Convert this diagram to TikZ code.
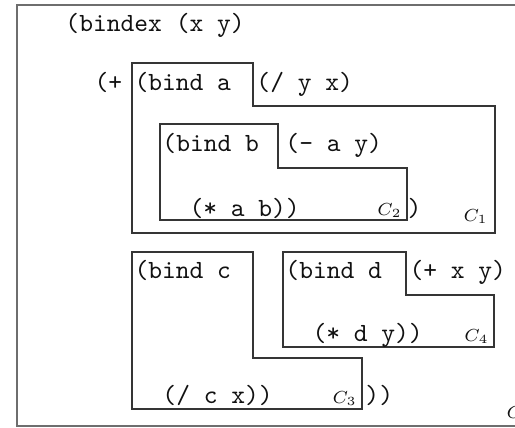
\documentclass[tikz,border=0pt]{standalone}
\usepackage{tikz}
\usepackage{amsmath, amssymb}
\usetikzlibrary{positioning, calc}
\definecolor{Dark}{HTML}{111111}
\definecolor{Frame}{HTML}{6E6E6E}
\tikzset{
    code/.style={font=\fontsize{10.5}{12}\ttfamily, text=Dark, inner sep=0pt, anchor=base west},
    ctxlabel/.style={font=\scriptsize, text=Dark, inner sep=0pt, anchor=base west},
    ctxbox/.style={draw=Dark!85, line width=0.45pt},
    outerbox/.style={draw=Frame, line width=0.9pt},
}
\begin{document}
\begin{tikzpicture}[x=0.4pt, y=-0.4pt]
    \useasboundingbox (0,0) rectangle (515,428);

    % Cornice esterna (tagliata a destra)
    \draw[outerbox] (17,5) rectangle (560,426);
    \node[ctxlabel] (c0) at (506,418) {$C_0$};

    % Contesti
    \draw[ctxbox] (132,63) -- (253,63) -- (253,106) -- (495,106) -- (495,233) -- (132,233) -- cycle;
    \draw[ctxbox] (160,124) -- (278,124) -- (278,168) -- (407,168) -- (407,220) -- (160,220) -- cycle;
    \draw[ctxbox] (132,252) -- (253,252) -- (253,358) -- (362,358) -- (362,409) -- (132,409) -- cycle;
    \draw[ctxbox] (283,252) -- (406,252) -- (406,295) -- (494,295) -- (494,347) -- (283,347) -- cycle;

    % Codice
    \node[code] (bindex) at (65,31) {(bindex (x y)};
    \node[code] (plus)   at (94,90) {(+};
    \node[code] (binda)  at (134,90) {(bind a};
    \node[code] (diva)   at (256,90) {(/ y x)};
    \node[code] (bindb)  at (162,151) {(bind b};
    \node[code] (minb)   at (285,151) {(- a y)};
    \node[code] (mulb)   at (189,216) {(* a b))};
    \node[code] (closea) at (407,216) {)};
    \node[code] (bindc)  at (134,278) {(bind c};
    \node[code] (divc)   at (162,403) {(/ c x))};
    \node[code] (closec) at (365,403) {))};
    \node[code] (bindd)  at (285,278) {(bind d};
    \node[code] (plusd)  at (409,278) {(+ x y)};
    \node[code] (muld)   at (312,341) {(* d y))};

    % Etichette dei contesti
    \node[ctxlabel] (c1) at (463,221) {$C_1$};
    \node[ctxlabel] (c2) at (377,215) {$C_2$};
    \node[ctxlabel] (c3) at (332,403) {$C_3$};
    \node[ctxlabel] (c4) at (464,341) {$C_4$};
\end{tikzpicture}
\end{document}
